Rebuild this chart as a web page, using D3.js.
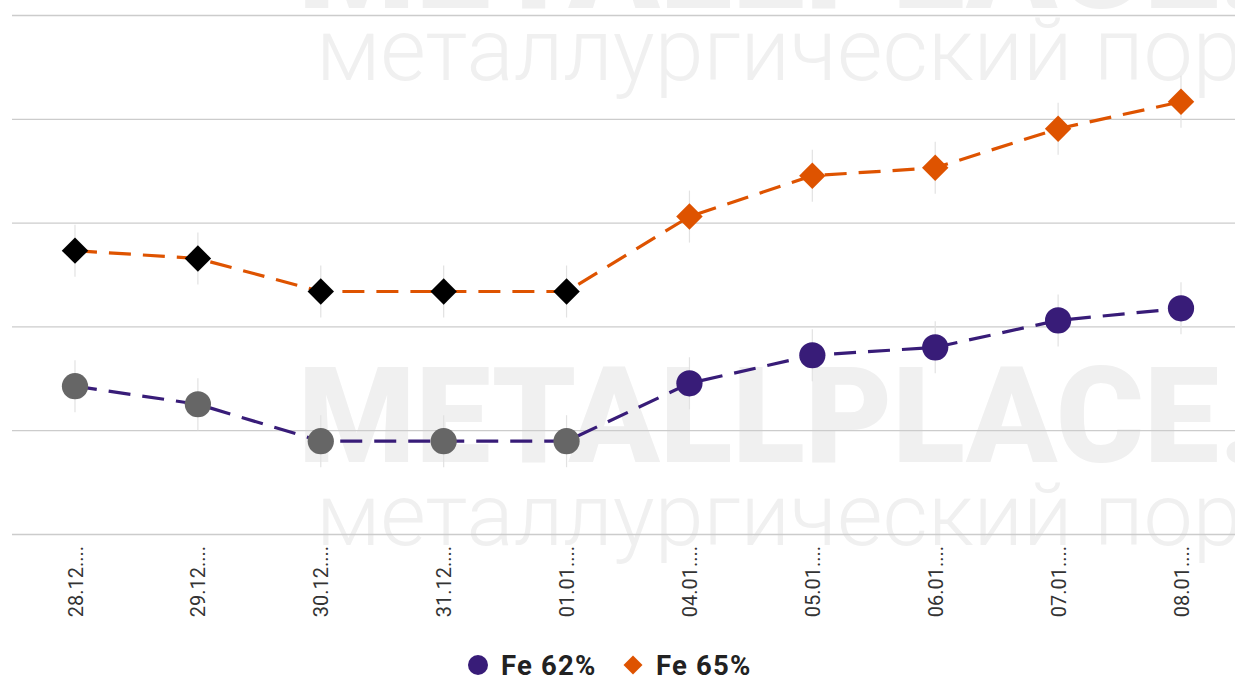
<!DOCTYPE html>
<html>
<head>
<meta charset="utf-8">
<script src="https://cdn.jsdelivr.net/npm/d3@7"></script>
<style>
  body { margin: 0; background: #fff; }
  svg { display: block; font-family: Roboto, "Noto Sans", sans-serif; }
</style>
</head>
<body>
<script>
// Data
const dates = ["28.12....", "29.12....", "30.12....", "31.12....", "01.01....",
               "04.01....", "05.01....", "06.01....", "07.01....", "08.01...."];
const fe62 = [107.12, 106.25, 104.47, 104.47, 104.47, 107.26, 108.61, 108.99, 110.29, 110.87];
const fe65 = [113.65, 113.27, 111.68, 111.68, 111.68, 115.29, 117.26, 117.64, 119.52, 120.82];
const yTicks = [100, 105, 110, 115, 120, 125];
// first five points are drawn in the "old" colour
const oldCount = 5;

const W = 1235, H = 677;
const margin = { top: 15, right: 0, bottom: 143, left: 12 };

const svg = d3.select("body").append("svg")
    .attr("width", W)
    .attr("height", H);

// watermark
const wm = svg.append("g").style("fill", "#f0f0f0");
wm.append("text").attr("x", 298).attr("y", 8)
    .style("font-size", "134px").style("font-weight", 900).text("METALLPLACE.RU");
wm.append("text").attr("x", 316).attr("y", 80)
    .style("font-size", "88px").style("font-weight", 300).text("металлургический портал");
wm.append("text").attr("x", 298).attr("y", 462)
    .style("font-size", "134px").style("font-weight", 900).text("METALLPLACE.RU");
wm.append("text").attr("x", 316).attr("y", 545)
    .style("font-size", "88px").style("font-weight", 300).text("металлургический портал");

const x = d3.scalePoint()
    .domain(dates)
    .range([75, 1181]);

const y = d3.scaleLinear()
    .domain([100, 125])
    .range([H - margin.bottom, margin.top]);

// grid
svg.append("g")
    .attr("class", "grid")
    .attr("transform", `translate(${margin.left},0)`)
    .call(d3.axisLeft(y).tickValues(yTicks).tickSize(-(W - margin.left)).tickFormat(""))
    .call(g => g.select(".domain").remove())
    .call(g => g.selectAll("line").attr("stroke", "#cccccc").attr("stroke-width", 1.3));

// x axis labels
svg.append("g")
    .attr("transform", `translate(0,${H - margin.bottom})`)
    .call(d3.axisBottom(x).tickSize(0).tickPadding(0))
    .call(g => g.select(".domain").remove())
    .call(g => g.selectAll("text")
        .attr("transform", "rotate(-90)")
        .attr("x", -12)
        .attr("y", 0)
        .attr("dy", "0.35em")
        .style("text-anchor", "end")
        .style("font-size", "20px")
        .style("fill", "#333")
        .style("font-family", "Roboto, sans-serif"));

const series = [
    { name: "Fe 62%", values: fe62, color: "#381c78", shape: "circle" },
    { name: "Fe 65%", values: fe65, color: "#de5300", shape: "diamond" }
];

const line = d3.line()
    .x((d, i) => x(dates[i]))
    .y(d => y(d));

series.forEach(s => {
    const pts = s.values.map((v, i) => ({ v, i }));

    // faint whiskers
    svg.append("g").selectAll("line")
        .data(pts)
        .enter().append("line")
        .attr("x1", d => x(dates[d.i]))
        .attr("x2", d => x(dates[d.i]))
        .attr("y1", d => y(d.v) - 26)
        .attr("y2", d => y(d.v) + 26)
        .attr("stroke", "#e2e2e2")
        .attr("stroke-width", 1.2);

    svg.append("path")
        .datum(s.values)
        .attr("d", line)
        .attr("fill", "none")
        .attr("stroke", s.color)
        .attr("stroke-width", 3.2)
        .attr("stroke-dasharray", "22,12");

    const oldFill = s.shape === "circle" ? "#666666" : "#000000";
    const sym = d3.symbol()
        .type(s.shape === "circle" ? d3.symbolCircle : d3.symbolSquare)
        .size(s.shape === "circle" ? 540 : 350);

    svg.append("g").selectAll("path")
        .data(pts)
        .enter().append("path")
        .attr("d", sym)
        .attr("transform", d => `translate(${x(dates[d.i])},${y(d.v)})` + (s.shape === "diamond" ? " rotate(45)" : ""))
        .attr("fill", d => d.i < oldCount ? oldFill : s.color);
});

// legend
const legend = svg.append("g").attr("transform", `translate(0,665)`);
legend.append("circle").attr("cx", 478).attr("cy", 0).attr("r", 10).attr("fill", series[0].color);
legend.append("text").attr("x", 501).attr("y", 0).attr("dy", "0.36em")
    .style("font-size", "27.5px").style("font-weight", 700).style("letter-spacing", "1.2px")
    .style("fill", "#222").text(series[0].name);
legend.append("path")
    .attr("d", d3.symbol().type(d3.symbolSquare).size(180))
    .attr("transform", "translate(633,0) rotate(45)")
    .attr("fill", series[1].color);
legend.append("text").attr("x", 656).attr("y", 0).attr("dy", "0.36em")
    .style("font-size", "27.5px").style("font-weight", 700).style("letter-spacing", "1.2px")
    .style("fill", "#222").text(series[1].name);
</script>
</body>
</html>
